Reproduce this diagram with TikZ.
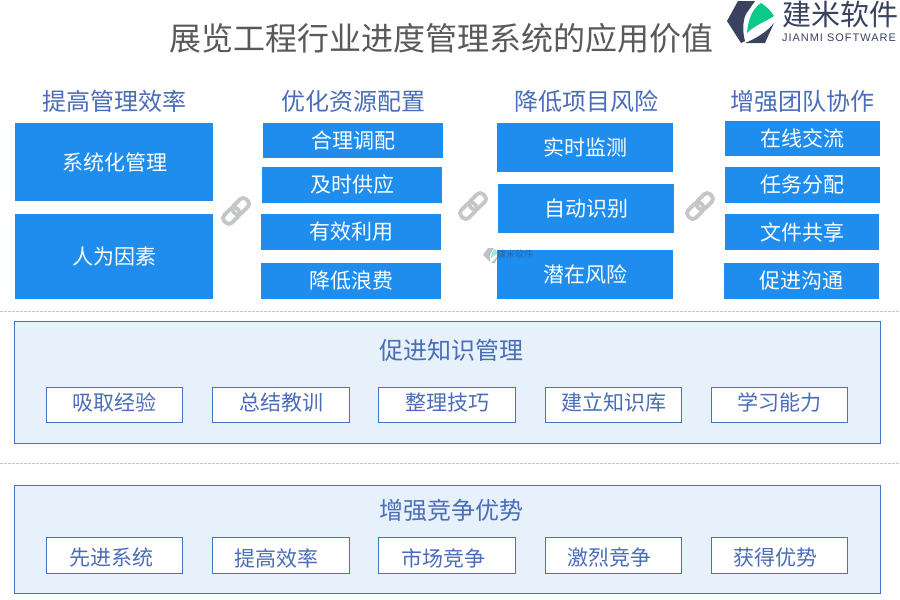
\documentclass[tikz,border=0pt]{standalone}
\usepackage{fontspec}
\setmainfont{Liberation Sans}
\newfontfamily\cjk{Noto Sans CJK SC}
\usetikzlibrary{calc}
\definecolor{bluefill}{HTML}{1E8DEE}
\definecolor{headblue}{HTML}{4A6DB8}
\definecolor{panelfill}{HTML}{E7F1FB}
\definecolor{panelline}{HTML}{4472C4}
\definecolor{titlegray}{HTML}{595959}
\definecolor{logodark}{HTML}{39435F}
\definecolor{logogreen}{HTML}{0CC98A}
\definecolor{linkgray}{HTML}{C4C6C8}
\definecolor{dashgray}{HTML}{C8C8C8}
\newcommand{\fs}[1]{\cjk\fontsize{#1}{#1}\selectfont}
\newcommand{\rbox}[7][solidbox]{%
  \node[#1,minimum width={(#5-#3)*1pt},minimum height={(#6-#4)*1pt}] (#2) at ({(#3+#5)/2},{-(#4+#6)/2}) {#7};}
% shift a label: #1 = width added on the right (moves text left by half), #2 = raise
\newcommand{\nudge}[3]{\raisebox{#2}[\height][\depth]{#3}\hspace*{#1}}
\tikzset{
  x=1pt,y=1pt,
  solidbox/.style={fill=bluefill,text=white,inner sep=0pt,outer sep=0pt,font=\fs{21}},
  panelbox/.style={fill=panelfill,draw=panelline,line width=0.9pt,inner sep=0pt,outer sep=0pt},
  smallbox/.style={fill=white,draw=panelline,line width=0.9pt,text=headblue,inner sep=0pt,outer sep=0pt,font=\fs{21}},
  heading/.style={text=headblue,inner sep=0pt,font=\fs{24}},
  sep/.style={draw=dashgray,line width=0.8pt,dash pattern=on 2.5pt off 1.5pt},
  linkicon/.pic={
    \begin{scope}[rotate=45,line width=3.8pt,draw=linkgray]
      \draw[rounded corners=4.2pt] (-15.5,-5.4) rectangle (2.5,5.4);
      \draw[rounded corners=4.2pt] (-2.5,-5.4) rectangle (15.5,5.4);
    \end{scope}
  },
}
\begin{document}
\begin{tikzpicture}
\useasboundingbox (0,0) rectangle (900,-600);
\fill[white] (0,0) rectangle (900,-600);
% title
\node[text=titlegray,inner sep=0pt,font=\fs{32}] (title) at (441.5,-38) {展览工程行业进度管理系统的应用价值};
% logo
\fill[logodark] (738,-1) -- (755,-1) -- (746,-14) .. controls (742,-22) and (743,-34) .. (745,-41) -- (741,-43) -- (727,-21) -- cycle;
\fill[logogreen] (747,-33) .. controls (748,-20) and (752,-9) .. (761,-3) .. controls (766,-6) and (771,-11) .. (774,-16) .. controls (765,-22) and (755,-25) .. (747,-33) -- cycle;
\fill[logodark] (745,-43) .. controls (755,-39) and (767,-32) .. (774,-23) -- (765,-43) -- cycle;
\node[text=logodark,inner sep=0pt,font=\fs{29}] (brand) at (840,-14) {建米软件};
\node[text=logodark,inner sep=0pt,font={\fontsize{11}{11}\selectfont\addfontfeature{LetterSpace=9}}] (brandlat) at (839,-38) {JIANMI SOFTWARE};
% headings
\node[heading] (h1) at (114,-101) {提高管理效率};
\node[heading] (h2) at (353.5,-101) {优化资源配置};
\node[heading] (h3) at (586,-101) {降低项目风险};
\node[heading] (h4) at (802,-101) {增强团队协作};
% column 1
\rbox{a1}{15}{123}{213}{201}{\nudge{-2pt}{0pt}{系统化管理}}
\rbox{a2}{15}{214}{213}{299}{人为因素}
% column 2
\rbox{b1}{263}{123}{443}{158}{合理调配}
\rbox{b2}{262}{167}{442}{203}{及时供应}
\rbox{b3}{261}{214}{441}{250}{有效利用}
\rbox{b4}{261}{263}{441}{299}{降低浪费}
% column 3
\rbox{c1}{497}{123}{673}{172}{实时监测}
\rbox{c2}{498}{184}{674}{233}{自动识别}
\rbox{c3}{497}{250}{673}{299}{潜在风险}
% column 4
\rbox{d1}{725}{121}{880}{156}{在线交流}
\rbox{d2}{725}{167}{880}{203}{任务分配}
\rbox{d3}{725}{214}{879}{250}{文件共享}
\rbox{d4}{724}{263}{879}{299}{促进沟通}
% link icons
\pic at (236,-211) {linkicon};
\pic at (473,-206) {linkicon};
\pic at (700,-206) {linkicon};
% watermark
\begin{scope}[opacity=0.55]
\fill[logodark!60] (488,-248) -- (494,-248) -- (490,-254) -- (490,-262) -- (483,-255) -- cycle;
\fill[logogreen!70] (491,-258) .. controls (491,-253) and (493,-250) .. (495,-249) -- (498,-253) -- cycle;
\fill[logodark!60] (491,-263) -- (498,-256) -- (495,-263) -- cycle;
\node[text=logodark,inner sep=0pt,font=\fs{9}] (wm) at (515,-254) {建米软件};
\end{scope}
% separators
\coordinate (s1l) at (0,-311); \coordinate (s1r) at (900,-311);
\coordinate (s2l) at (0,-463); \coordinate (s2r) at (900,-463);
\draw[sep] (s1l) -- (s1r);
\draw[sep] (s2l) -- (s2r);
% panel 1
\rbox[panelbox]{p1}{14}{321}{880.5}{443}{}
\node[heading] (ph1) at (451,-350) {促进知识管理};
\rbox[smallbox]{k1}{46}{387}{182.5}{422}{\nudge{0pt}{2pt}{吸取经验}}
\rbox[smallbox]{k2}{212}{387}{349.5}{422}{\nudge{-1pt}{2pt}{总结教训}}
\rbox[smallbox]{k3}{378}{387}{515.5}{422}{\nudge{-1pt}{2pt}{整理技巧}}
\rbox[smallbox]{k4}{545}{387}{681.5}{422}{\nudge{-1pt}{2pt}{建立知识库}}
\rbox[smallbox]{k5}{711}{387}{847.5}{422}{\nudge{0pt}{2pt}{学习能力}}
% panel 2
\rbox[panelbox]{p2}{14}{485}{880.5}{593}{}
\node[heading] (ph2) at (451,-510) {增强竞争优势};
\rbox[smallbox]{m1}{46}{537}{182.5}{573}{\nudge{6pt}{-3pt}{先进系统}}
\rbox[smallbox]{m2}{212}{537}{349.5}{573}{\nudge{8pt}{-3pt}{提高效率}}
\rbox[smallbox]{m3}{378}{537}{515.5}{573}{\nudge{6pt}{-3pt}{市场竞争}}
\rbox[smallbox]{m4}{545}{537}{681.5}{573}{\nudge{8pt}{-3pt}{激烈竞争}}
\rbox[smallbox]{m5}{711}{537}{847.5}{573}{\nudge{7pt}{-3pt}{获得优势}}
\end{tikzpicture}
\end{document}
